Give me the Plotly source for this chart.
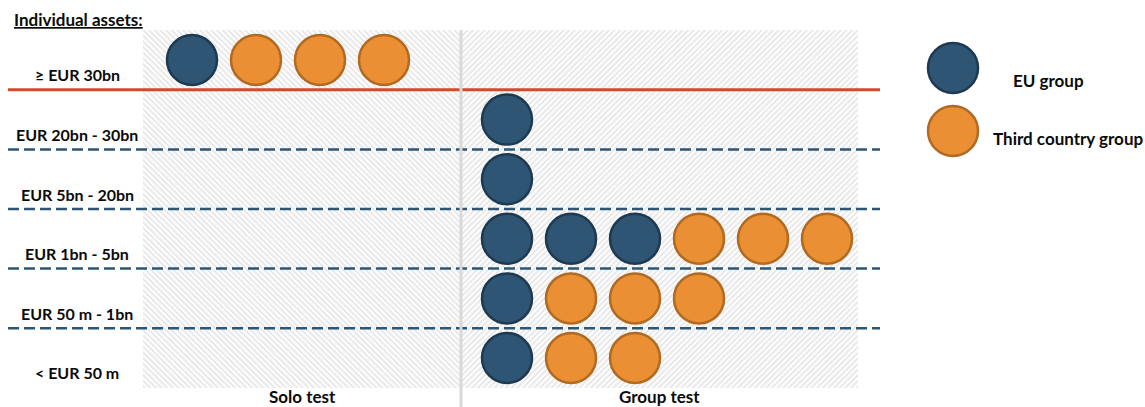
import plotly.graph_objects as go

# ---------------- data ----------------
categories = ["≥ EUR 30bn", "EUR 20bn - 30bn", "EUR 5bn - 20bn",
              "EUR 1bn - 5bn", "EUR 50 m - 1bn", "< EUR 50 m"]
solo_eu = [1, 0, 0, 0, 0, 0]
solo_third = [3, 0, 0, 0, 0, 0]
group_eu = [0, 1, 1, 3, 1, 1]
group_third = [0, 0, 0, 3, 3, 2]
tests = ["Solo test", "Group test"]
legend_labels = ["EU group", "Third country group"]
title_text = "Individual assets:"

# ---------------- style ----------------
EU_FILL, EU_EDGE = "#2E5573", "#1E3A52"
TC_FILL, TC_EDGE = "#EA8F33", "#B06A22"
RED = "#D44B2C"
FONT = "Lato"
W, H = 1145, 407
ROW_PX0, ROW_STEP = 60, 59.6           # pixel centre of first row, row spacing
Y_TOP = -ROW_PX0 / ROW_STEP
Y_BOT = (H - ROW_PX0) / ROW_STEP
SLOT = 64                               # px between circles
SOLO_X0, GROUP_X0 = 192, 507
SOLO_PANEL = (143, 460)
GROUP_PANEL = (462, 858)
LINE_X = (8, 880)
MSIZE = 50

def py(p):  # pixel y -> row units
    return (p - ROW_PX0) / ROW_STEP

fig = go.Figure()

# hatched panels
for (x0, x1), shp in [(SOLO_PANEL, "\\"), (GROUP_PANEL, "/")]:
    fig.add_trace(go.Bar(
        x=[(x0 + x1) / 2], y=[len(categories)], base=[-0.5], width=[x1 - x0],
        marker=dict(color="#fcfcfc", line_width=0,
                    pattern=dict(shape=shp, fgcolor="#e0e0e0", bgcolor="#fcfcfc",
                                 size=4, solidity=0.3, fillmode="replace")),
        hoverinfo="skip", showlegend=False))

# circles
xs, ys, fills, edges = [], [], [], []
for r in range(len(categories)):
    for x0, ne, nt in [(SOLO_X0, solo_eu[r], solo_third[r]),
                       (GROUP_X0, group_eu[r], group_third[r])]:
        kinds = ["eu"] * ne + ["tc"] * nt
        for i, k in enumerate(kinds):
            xs.append(x0 + i * SLOT)
            ys.append(r)
            fills.append(EU_FILL if k == "eu" else TC_FILL)
            edges.append(EU_EDGE if k == "eu" else TC_EDGE)
fig.add_trace(go.Scatter(
    x=xs, y=ys, mode="markers",
    marker=dict(size=MSIZE, color=fills, line=dict(color=edges, width=2.5)),
    hoverinfo="skip", showlegend=False))

# legend (custom)
leg_y = [py(68), py(131)]
fig.add_trace(go.Scatter(
    x=[953, 953], y=leg_y, mode="markers",
    marker=dict(size=MSIZE, color=[EU_FILL, TC_FILL],
                line=dict(color=[EU_EDGE, TC_EDGE], width=2.5)),
    hoverinfo="skip", showlegend=False))

shapes = []
# separator lines
for k in range(len(categories) - 1):
    shapes.append(dict(type="line", xref="x", yref="y",
                       x0=LINE_X[0], x1=LINE_X[1], y0=k + 0.5, y1=k + 0.5,
                       line=dict(color=RED if k == 0 else EU_FILL,
                                 width=3 if k == 0 else 2.5,
                                 dash="solid" if k == 0 else "11px,5px"),
                       layer="above"))
# vertical divider
shapes.append(dict(type="line", xref="x", yref="y", x0=461, x1=461,
                   y0=-0.5, y1=Y_BOT, line=dict(color="#d9d9d9", width=3),
                   layer="above"))

annotations = []
for r, c in enumerate(categories):
    annotations.append(dict(x=77, y=r + 0.25, text=f"<b>{c}</b>", showarrow=False,
                            xanchor="center", yanchor="middle",
                            font=dict(family=FONT, size=16, color="#0a0a0a")))
for t, cx in zip(tests, [302, 659]):
    annotations.append(dict(x=cx, y=py(396), text=f"<b>{t}</b>", showarrow=False,
                            xanchor="center", yanchor="middle",
                            font=dict(family=FONT, size=17, color="#0a0a0a")))
annotations.append(dict(x=12, y=py(19), text=f"<b><u>{title_text}</u></b>",
                        showarrow=False, xanchor="left", yanchor="middle",
                        font=dict(family=FONT, size=17, color="#0a0a0a")))
for lab, cx, cy in zip(legend_labels, [1048, 1068], [py(80), py(138)]):
    annotations.append(dict(x=cx, y=cy, text=f"<b>{lab}</b>", showarrow=False,
                            xanchor="center", yanchor="middle",
                            font=dict(family=FONT, size=17, color="#0a0a0a")))

fig.update_layout(
    width=W, height=H, margin=dict(l=0, r=0, t=0, b=0),
    paper_bgcolor="white", plot_bgcolor="white",
    xaxis=dict(range=[0, W], visible=False, fixedrange=True),
    yaxis=dict(range=[Y_BOT, Y_TOP], visible=False, fixedrange=True),
    shapes=shapes, annotations=annotations, bargap=0, showlegend=False,
)

fig.write_html("out.html", config={"displayModeBar": False},
               post_script="document.body.style.margin='0px';"
                           "document.body.style.overflow='hidden';")
